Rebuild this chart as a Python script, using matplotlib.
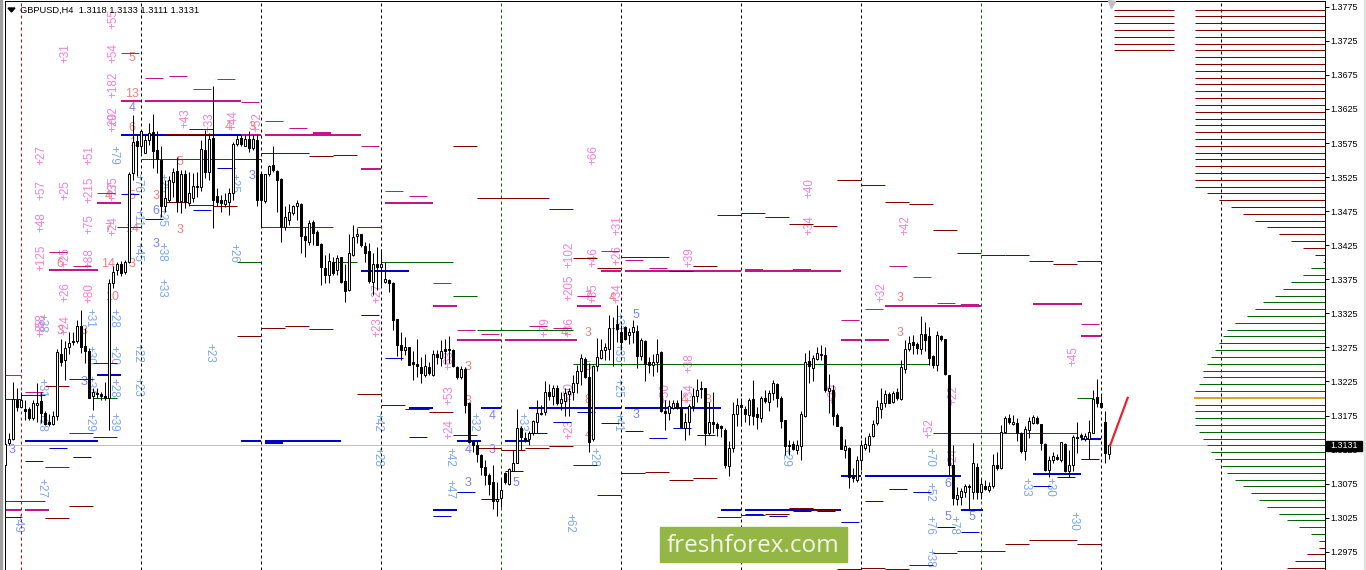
import numpy as np
import matplotlib
matplotlib.use("Agg")
import matplotlib.pyplot as plt
from matplotlib.patches import Rectangle

# GBPUSD H4 candles, prices in points (1.3131 -> 13131)
opens = [
    13102, 13134, 13140, 13198, 13188, 13184, 13185, 13171, 13191, 13196,
    13178, 13165, 13163, 13174, 13266, 13256, 13275, 13285, 13285, 13306,
    13277, 13270, 13203, 13208, 13206, 13203, 13200, 13369, 13388, 13398,
    13385, 13401, 13531, 13578, 13570, 13561, 13579, 13591, 13565, 13550,
    13483, 13491, 13518, 13534, 13490, 13529, 13487, 13495, 13512, 13511,
    13565, 13533, 13582, 13497, 13491, 13486, 13488, 13501, 13573, 13582,
    13571, 13581, 13568, 13580, 13529, 13490, 13529, 13543, 13534, 13522,
    13451, 13462, 13472, 13482, 13486, 13439, 13430, 13459, 13445, 13427,
    13391, 13381, 13401, 13388, 13407, 13372, 13359, 13411, 13438, 13442,
    13424, 13416, 13371, 13398, 13393, 13371, 13374, 13369, 13316, 13278,
    13271, 13275, 13254, 13251, 13246, 13234, 13246, 13235, 13266, 13260,
    13272, 13272, 13271, 13246, 13231, 13244, 13193, 13136, 13132, 13117,
    13099, 13088, 13077, 13049, 13054, 13090, 13075, 13094, 13106, 13157,
    13142, 13141, 13149, 13165, 13178, 13180, 13209, 13203, 13216, 13194,
    13196, 13207, 13210, 13222, 13241, 13258, 13231, 13141, 13247, 13259,
    13271, 13273, 13304, 13309, 13298, 13305, 13293, 13298, 13299, 13263,
    13284, 13253, 13249, 13253, 13268, 13182, 13178, 13186, 13194, 13187,
    13156, 13165, 13189, 13203, 13216, 13215, 13150, 13166, 13163, 13160,
    13154, 13101, 13128, 13177, 13190, 13185, 13176, 13199, 13177, 13172,
    13200, 13195, 13208, 13221, 13201, 13168, 13132, 13133, 13125, 13130,
    13175, 13255, 13245, 13258, 13266, 13264, 13211, 13213, 13176, 13158,
    13125, 13128, 13088, 13080, 13110, 13128, 13132, 13145, 13164, 13185,
    13194, 13207, 13195, 13209, 13199, 13244, 13272, 13283, 13280, 13273,
    13294, 13291, 13262, 13249, 13292, 13287, 13235, 13102, 13053, 13056,
    13062, 13072, 13062, 13099, 13062, 13072, 13065, 13071, 13103, 13098,
    13151, 13172, 13163, 13164, 13150, 13123, 13153, 13164, 13172, 13162,
    13133, 13095, 13109, 13114, 13109, 13133, 13093, 13102, 13143, 13146,
    13141, 13141, 13150, 13202, 13194, 13165, 13118,
]
closes = [
    13133, 13141, 13199, 13187, 13198, 13182, 13172, 13193, 13194, 13178,
    13163, 13162, 13175, 13268, 13254, 13274, 13282, 13283, 13307, 13275,
    13269, 13201, 13209, 13206, 13203, 13200, 13370, 13386, 13397, 13384,
    13401, 13530, 13576, 13570, 13593, 13579, 13589, 13564, 13551, 13482,
    13494, 13521, 13533, 13489, 13530, 13489, 13501, 13512, 13511, 13566,
    13533, 13581, 13491, 13488, 13487, 13491, 13501, 13574, 13581, 13574,
    13581, 13567, 13581, 13491, 13491, 13529, 13541, 13535, 13520, 13452,
    13466, 13474, 13483, 13487, 13438, 13432, 13457, 13443, 13425, 13393,
    13381, 13402, 13384, 13406, 13371, 13358, 13413, 13437, 13441, 13425,
    13414, 13372, 13398, 13393, 13398, 13375, 13369, 13315, 13278, 13271,
    13275, 13249, 13251, 13247, 13237, 13247, 13237, 13265, 13261, 13270,
    13269, 13271, 13247, 13231, 13244, 13190, 13136, 13132, 13118, 13100,
    13087, 13074, 13049, 13053, 13065, 13078, 13096, 13106, 13157, 13144,
    13139, 13150, 13167, 13178, 13177, 13209, 13203, 13215, 13193, 13199,
    13208, 13211, 13222, 13241, 13259, 13231, 13136, 13247, 13261, 13271,
    13275, 13303, 13303, 13302, 13283, 13287, 13298, 13305, 13263, 13286,
    13250, 13249, 13254, 13266, 13182, 13178, 13189, 13194, 13186, 13158,
    13165, 13189, 13204, 13213, 13214, 13149, 13166, 13163, 13156, 13157,
    13102, 13128, 13177, 13191, 13188, 13177, 13198, 13175, 13173, 13200,
    13196, 13208, 13222, 13200, 13167, 13130, 13130, 13126, 13131, 13177,
    13253, 13247, 13259, 13267, 13264, 13212, 13215, 13175, 13160, 13126,
    13130, 13085, 13083, 13110, 13132, 13133, 13145, 13162, 13187, 13194,
    13207, 13194, 13208, 13201, 13246, 13272, 13282, 13279, 13274, 13294,
    13286, 13260, 13249, 13293, 13288, 13236, 13102, 13054, 13058, 13064,
    13071, 13070, 13105, 13062, 13075, 13067, 13072, 13103, 13098, 13151,
    13171, 13165, 13166, 13150, 13123, 13155, 13167, 13173, 13164, 13134,
    13095, 13109, 13115, 13111, 13136, 13094, 13103, 13144, 13142, 13143,
    13145, 13151, 13199, 13194, 13188, 13120, 13131,
]
highs = [
    13138, 13150, 13224, 13216, 13209, 13198, 13188, 13198, 13222, 13210,
    13181, 13177, 13182, 13272, 13288, 13284, 13297, 13298, 13315, 13330,
    13304, 13274, 13216, 13216, 13210, 13224, 13375, 13394, 13401, 13402,
    13403, 13533, 13616, 13587, 13594, 13587, 13604, 13617, 13592, 13570,
    13521, 13526, 13538, 13555, 13535, 13535, 13533, 13531, 13533, 13579,
    13594, 13589, 13659, 13509, 13499, 13501, 13509, 13577, 13587, 13587,
    13587, 13592, 13587, 13587, 13530, 13530, 13543, 13571, 13535, 13523,
    13482, 13486, 13484, 13491, 13487, 13452, 13462, 13462, 13447, 13428,
    13411, 13413, 13408, 13411, 13408, 13398, 13442, 13455, 13450, 13442,
    13430, 13428, 13413, 13423, 13420, 13401, 13376, 13371, 13317, 13298,
    13290, 13275, 13269, 13287, 13261, 13265, 13254, 13271, 13271, 13286,
    13288, 13292, 13272, 13248, 13247, 13246, 13195, 13137, 13137, 13118,
    13110, 13090, 13102, 13078, 13083, 13092, 13098, 13124, 13185, 13160,
    13151, 13152, 13168, 13198, 13191, 13226, 13221, 13220, 13220, 13210,
    13215, 13216, 13234, 13249, 13265, 13261, 13252, 13249, 13289, 13288,
    13281, 13323, 13320, 13337, 13308, 13307, 13303, 13315, 13308, 13289,
    13286, 13261, 13266, 13287, 13270, 13198, 13198, 13198, 13198, 13212,
    13178, 13192, 13216, 13228, 13226, 13216, 13195, 13209, 13166, 13161,
    13156, 13137, 13195, 13200, 13200, 13189, 13200, 13227, 13188, 13203,
    13213, 13212, 13227, 13223, 13203, 13169, 13139, 13138, 13139, 13181,
    13267, 13271, 13264, 13276, 13279, 13276, 13236, 13220, 13178, 13160,
    13141, 13129, 13098, 13116, 13139, 13144, 13149, 13168, 13198, 13215,
    13212, 13210, 13211, 13215, 13256, 13286, 13291, 13293, 13283, 13321,
    13313, 13305, 13264, 13299, 13293, 13288, 13235, 13132, 13070, 13068,
    13075, 13075, 13134, 13105, 13083, 13080, 13078, 13119, 13122, 13161,
    13175, 13177, 13176, 13171, 13151, 13159, 13173, 13176, 13175, 13163,
    13134, 13115, 13121, 13119, 13136, 13134, 13124, 13146, 13165, 13150,
    13149, 13168, 13212, 13229, 13203, 13181, 13133,
]
lows = [
    13100, 13131, 13139, 13181, 13187, 13168, 13168, 13168, 13166, 13164,
    13161, 13159, 13161, 13169, 13247, 13227, 13266, 13278, 13281, 13267,
    13252, 13200, 13183, 13201, 13198, 13198, 13153, 13362, 13381, 13380,
    13383, 13399, 13521, 13526, 13560, 13560, 13572, 13538, 13531, 13467,
    13474, 13489, 13496, 13474, 13472, 13479, 13482, 13489, 13496, 13504,
    13523, 13521, 13450, 13482, 13474, 13481, 13469, 13491, 13570, 13570,
    13570, 13562, 13565, 13482, 13451, 13487, 13526, 13533, 13474, 13430,
    13447, 13455, 13469, 13462, 13413, 13408, 13425, 13425, 13425, 13367,
    13369, 13369, 13381, 13381, 13370, 13342, 13358, 13409, 13428, 13422,
    13401, 13369, 13352, 13359, 13366, 13369, 13356, 13300, 13262, 13256,
    13264, 13249, 13227, 13232, 13222, 13232, 13234, 13233, 13251, 13247,
    13251, 13252, 13246, 13229, 13228, 13178, 13134, 13122, 13107, 13087,
    13073, 13058, 13038, 13027, 13041, 13075, 13073, 13093, 13105, 13124,
    13136, 13131, 13146, 13149, 13176, 13176, 13198, 13190, 13190, 13183,
    13175, 13175, 13198, 13208, 13220, 13230, 13121, 13137, 13240, 13258,
    13256, 13256, 13247, 13283, 13271, 13286, 13280, 13281, 13245, 13256,
    13225, 13237, 13233, 13239, 13180, 13153, 13168, 13185, 13185, 13156,
    13139, 13146, 13181, 13195, 13200, 13132, 13146, 13149, 13145, 13144,
    13098, 13086, 13122, 13160, 13160, 13166, 13161, 13161, 13155, 13165,
    13193, 13181, 13198, 13188, 13156, 13117, 13117, 13124, 13119, 13109,
    13173, 13223, 13225, 13257, 13256, 13210, 13178, 13161, 13160, 13126,
    13112, 13068, 13078, 13078, 13095, 13124, 13122, 13144, 13161, 13171,
    13188, 13193, 13194, 13198, 13198, 13237, 13269, 13266, 13266, 13266,
    13269, 13249, 13245, 13240, 13285, 13235, 13088, 13043, 13044, 13044,
    13056, 13038, 13053, 13053, 13053, 13066, 13063, 13068, 13095, 13096,
    13149, 13163, 13161, 13137, 13120, 13109, 13142, 13162, 13162, 13124,
    13093, 13085, 13105, 13109, 13107, 13092, 13084, 13093, 13120, 13139,
    13138, 13111, 13149, 13188, 13186, 13106, 13111,
]

# level segments: (first bar, last bar, price in points)
magenta_thin = [
    (29, 33.5, 13707), (35, 39.5, 13670), (41, 45.5, 13674), (47, 51.5, 13654),
    (53, 57.5, 13669), (59, 63.5, 13635), (65, 69.5, 13608), (71, 75.5, 13597),
    (11, 15.5, 13415), (17, 21.5, 13395), (23, 27.5, 13501), (0, 4, 13235),
    (5, 9.5, 13209), (89, 93.5, 13571), (95, 99.5, 13505), (101, 105.5, 13497),
    (107, 111.5, 13370), (113, 117.5, 13301), (119, 123.5, 13295),
    (131, 135.5, 13307), (137, 141.5, 13303), (143, 147.5, 13351),
    (149, 153.5, 13417), (155, 159.5, 13404), (161, 165.5, 13392),
    (173, 177.5, 13394), (209, 213.5, 13315), (215, 219.5, 13332),
    (221, 225.5, 13395), (227, 231.5, 13379), (233, 237.5, 13340),
    (269, 273.5, 13310),
]
magenta_thick = [
    (29, 34, 13637), (35, 59, 13637), (23, 29, 13487), (11, 23.2, 13388),
    (59, 64, 13587), (65, 89, 13587), (77, 81.5, 13589), (0, 4, 13037),
    (5, 11, 13037), (89, 94, 13537), (95, 107, 13487), (107, 113, 13336),
    (113, 124, 13286), (125, 143, 13286), (143, 149, 13336), (149, 154, 13387),
    (155, 184, 13387), (185, 209, 13387), (185, 189.5, 13389), (197, 201.5, 13389),
    (209, 214, 13286), (215, 221, 13286), (220, 244, 13336), (239, 243.5, 13337),
    (257, 269.2, 13339), (269, 274, 13291),
]
blue_thick = [
    (29, 59, 13587), (5, 23.2, 13137), (23, 29, 13235), (59, 64, 13137),
    (65, 84, 13137), (65, 69.5, 13135), (89, 101, 13387), (101, 107, 13186),
    (119, 124, 13186), (131, 154, 13186), (155, 179, 13186), (113, 119, 13137),
    (125, 131, 13137), (107, 113, 13037), (179, 184, 13037), (185, 209, 13037),
    (209, 214, 13086), (215, 239, 13086), (239, 244.5, 13037), (257, 269, 13089),
    (269, 274, 13140),
]
blue_thin = [
    (29, 33.5, 13500), (35, 39.5, 13463), (47, 51.5, 13476), (53, 57.5, 13539),
    (11, 15.5, 13128), (17, 21.5, 13114), (5, 9.5, 13108), (0, 4, 13026),
    (89, 93.5, 13323), (95, 99.5, 13259), (101, 105.5, 13143), (113, 117.5, 13062),
    (119, 123.5, 13052), (107, 111.5, 13027), (125, 129.5, 13093), (131, 135.5, 13149),
    (137, 141.5, 13165), (143, 147.5, 13180), (149, 153.5, 13164), (155, 159.5, 13152),
    (161, 165.5, 13142), (167, 171.5, 13156), (173, 177.5, 13146), (185, 189.5, 13030),
    (191, 195.5, 13027), (197, 201.5, 13035), (203, 207.5, 13035), (209, 213.5, 13018),
    (215, 219.5, 13049), (221, 225.5, 13067), (227, 231.5, 13062), (233, 237.5, 13012),
    (239, 243.5, 13004), (257, 261.5, 13071), (263, 267.5, 13084), (269, 273.5, 13111),
]
maroon = [
    (46, 52, 13595), (40, 52, 13588), (46, 52, 13484), (52, 58, 13483), (40, 46, 13489),
    (58, 64, 13551), (64, 76, 13560), (76, 82, 13556), (82, 88, 13557),
    (0, 4, 13199), (4, 10, 13205), (10, 16, 13219), (16, 22, 13228), (22, 28, 13252),
    (22, 28, 13144), (10, 16, 13024), (16, 22, 13042), (58, 64, 13291), (64, 70, 13303),
    (70, 76, 13306), (76, 82, 13302), (88, 94, 13206), (94, 100, 13190),
    (100, 106, 13184), (106, 112, 13180), (112, 118, 13571), (118, 136, 13494),
    (136, 142, 13478), (142, 148, 13406), (148, 154, 13392), (154, 166, 13407),
    (166, 172, 13387), (172, 178, 13394), (178, 184, 13469), (184, 190, 13472),
    (190, 196, 13466), (196, 202, 13456), (202, 208, 13453), (208, 214, 13520),
    (214, 220, 13514), (220, 226, 13489), (226, 232, 13486), (232, 238, 13447),
    (238, 244, 13414), (244, 250, 13410), (250, 256, 13411), (256, 262, 13402),
    (262, 268, 13397), (268, 274, 13402), (112, 118, 13146), (118, 124, 13128),
    (124, 130, 13124), (130, 136, 13128), (136, 142, 13130), (142, 148, 13103),
    (148, 154, 13059), (154, 160, 13090), (160, 166, 13092), (166, 172, 13080),
    (172, 178, 13083), (178, 184, 13026), (184, 190, 13029), (190, 196, 13031),
    (196, 202, 13039), (202, 208, 13036), (208, 214, 12949), (214, 220, 12951),
    (220, 226, 12949), (226, 232, 12955), (232, 238, 12973), (238, 250, 12976),
    (250, 256, 12986), (256, 268, 12992), (268, 274, 12986),
]
green = [
    (34, 64, 13551), (64, 82, 13451), (28, 34, 13451), (58, 64, 13401), (16, 22, 13150),
    (10, 16, 13100), (0, 10, 13050), (22, 28, 13200), (88, 94, 13451), (82, 88, 13401),
    (94, 112, 13401), (112, 118, 13351), (118, 142, 13300), (142, 231, 13250),
    (232, 268, 13150), (268, 272, 13200),
]

# volume profile on the right, one row per 10 points going down from 13771
profile_len = [32.5] * 27 + [
    29.5, 26.5, 23.5, 20.5, 17.5, 14.5, 11.5, 8.5, 5.5, 2.5,
    0.5, 3.5, 5.5, 8.5, 10.5, 12.5, 15.5, 17.5, 19.5, 22.5,
    24.5, 25.5, 26.5, 27.5, 28.5, 29.5, 30.5, 30.5, 31.5, 32.5,
    32.75, 32.5, 32.5, 32.5, 32.5, 31.5, 30.5, 29.5, 28.5, 27.5,
    25.7, 24.5, 22.5, 20.5, 18.5, 16.5, 14.5, 11.5, 9.5, 6.5,
    3.5, 1.5, 1.5, 4.5, 7.5, 9.5,
]
upper_block_rows = [13771, 13761, 13751, 13741, 13731, 13721, 13711]

sep_bars = [34, 64, 94, 154, 184, 214, 274, 304]
sep_green = [124, 244]
sep_red = [4]

pink_labels = [
    (15, 13707, "+31"), (27, 13757, "+55"), (27, 13707, "+54"), (27, 13660, "+182"),
    (27, 13615, "+92"), (27, 13606, "+20"), (9, 13557, "+27"), (9, 13506, "+57"),
    (15, 13506, "+25"), (21, 13557, "+51"), (21, 13506, "+215"), (9, 13459, "+48"),
    (21, 13456, "+75"), (9, 13406, "+125"), (15, 13408, "+25"), (21, 13406, "+88"),
    (15, 13356, "+26"), (21, 13355, "+80"), (9, 13311, "+58"), (15, 13308, "+24"),
    (9, 13305, "+38"), (27, 13512, "+35"), (27, 13505, "+27"), (27, 13453, "+24"),
    (45, 13612, "+43"), (51, 13606, "+33"), (57, 13609, "+44"), (63, 13606, "+52"),
    (93, 13305, "+23"), (93, 13355, "+27"), (111, 13205, "+53"), (111, 13155, "+24"),
    (111, 13257, "+63"), (135, 13305, "+79"), (141, 13305, "+86"), (141, 13362, "+205"),
    (141, 13411, "+102"), (147, 13557, "+66"), (147, 13355, "+35"), (147, 13408, "+46"),
    (153, 13355, "+34"), (153, 13411, "+26"), (153, 13455, "+31"), (141, 13155, "+23"),
    (141, 13209, "+50"), (165, 13208, "+50"), (171, 13208, "+34"), (171, 13252, "+38"),
    (171, 13408, "+39"), (201, 13509, "+40"), (201, 13455, "+34"), (225, 13455, "+42"),
    (219, 13356, "+32"), (237, 13205, "+22"), (231, 13157, "+52"), (267, 13262, "+45"),
    (207, 13208, "+20"), (237, 13113, "+24"),
]
blue_labels = [
    (9, 13069, "+27"), (3, 13017, "+49"), (9, 13166, "+28"), (9, 13215, "+31"),
    (9, 13311, "+38"), (21, 13318, "+31"), (21, 13264, "+30"), (21, 13220, "+34"),
    (21, 13166, "+29"), (27, 13318, "+28"), (27, 13264, "+20"), (27, 13215, "+28"),
    (27, 13166, "+39"), (33, 13267, "+22"), (33, 13217, "+23"), (51, 13267, "+23"),
    (39, 13362, "+33"), (39, 13415, "+38"), (33, 13415, "+45"), (57, 13414, "+26"),
    (33, 13466, "+11"), (39, 13466, "+25"), (39, 13516, "+25"), (33, 13516, "+76"),
    (57, 13516, "+25"), (27, 13557, "+79"), (93, 13166, "+42"), (93, 13114, "+28"),
    (111, 13114, "+42"), (111, 13067, "+47"), (117, 13166, "+32"), (129, 13166, "+33"),
    (141, 13017, "+62"), (147, 13114, "+28"), (153, 13215, "+25"), (153, 13166, "+41"),
    (153, 13267, "+35"), (153, 13312, "+31"), (231, 13114, "+70"), (231, 13063, "+52"),
    (231, 13014, "+76"), (231, 12966, "+38"), (237, 13014, "+78"), (195, 13114, "+29"),
    (255, 13070, "+33"), (261, 13070, "+30"), (267, 13020, "+30"),
]
salmon_counts = [
    (31.7, 13700, "5"), (31.7, 13647, "13"), (31.7, 13597, "6"), (31.7, 13575, "1"),
    (43.7, 13447, "3"), (43.7, 13547, "5"), (37.7, 13497, "3"), (55.7, 13599, "4"),
    (61.7, 13599, "3"), (25.7, 13497, "4"), (31.7, 13497, "5"), (13.7, 13397, "6"),
    (25.7, 13397, "14"), (31.7, 13397, "3"), (25.7, 13449, "7"), (31.7, 13449, "14"),
    (13.7, 13299, "3"), (19.7, 13299, "3"), (26.7, 13349, "10"), (115.7, 13246, "3"),
    (115.7, 13197, "3"), (145.7, 13296, "3"), (139.7, 13296, "4"), (145.7, 13349, "7"),
    (151.7, 13347, "4"), (145.7, 13198, "8"), (145.7, 13146, "4"), (145.7, 13246, "5"),
    (175.7, 13198, "3"), (169.7, 13198, "4"), (223.7, 13347, "3"), (223.7, 13296, "3"),
]
purple_counts = [
    (31.7, 13626, "4"), (37.7, 13475, "6"), (37.7, 13427, "3"), (61.7, 13527, "3"),
    (1.7, 13124, "3"), (19.7, 13224, "3"), (115.7, 13124, "4"), (121.7, 13124, "3"),
    (121.7, 13174, "4"), (115.7, 13076, "3"), (127.7, 13076, "5"), (157.7, 13323, "5"),
    (157.7, 13176, "3"), (241.7, 13026, "5"), (235.7, 13026, "5"), (235.7, 13074, "6"),
]

price_ticks = np.arange(12975, 13776, 50)
trend_x = [276.2, 280.6]
trend_y = [13131, 13201]
last_price = 13131
title_txt = "GBPUSD,H4  1.3118 1.3133 1.3111 1.3131"

W, H = 1366, 570
PX = 100 / 72  # pixels per point at dpi 100
FONT = "Liberation Sans"
MAGENTA = "#c71585"
BLUE = "#0000cd"
MAROON = "#800000"
GREEN = "#006400"


def px_box(x0, y0, x1, y1):
    """Figure-fraction rectangle from pixel corners, y counted from the top."""
    return x0 / W, 1 - y1 / H, (x1 - x0) / W, (y1 - y0) / H


def add_levels(ax, segs, color, width):
    segs = np.array(segs)
    ax.hlines(segs[:, 2] / 1e4, segs[:, 0], segs[:, 1], colors=color,
              linewidth=width / PX, zorder=2, snap=True)


def add_labels(ax, labels, color, size, rot):
    for x, p, txt in labels:
        ax.text(x, p / 1e4, txt, color=color, fontsize=size, rotation=rot,
                ha="center", va="center", family=FONT, zorder=1)


fig = plt.figure(figsize=(W / 100, H / 100), dpi=100, facecolor="white")
ax = fig.add_axes(px_box(4.5, 1, 1324.5, 570))
ax.set_xlim(-0.2, 329.8)
ax.set_ylim(1.29482, 1.37835)

ax.spines["bottom"].set_visible(False)
for side in ["left", "right", "top"]:
    ax.spines[side].set_linewidth(1 / PX)
ax.set_xticks([])
ax.yaxis.tick_right()
ax.set_yticks(price_ticks / 1e4)
ax.set_yticklabels([f"{p / 1e4:.4f}" for p in price_ticks], family=FONT, fontsize=6.5)
ax.tick_params(axis="y", length=4 / PX, width=1 / PX, pad=2 / PX)

# period separators and last price line
ax.axhline(last_price / 1e4, color="#c0c0c0", linewidth=1 / PX, zorder=1.5)
for bars, col in [(sep_bars, "black"), (sep_green, GREEN), (sep_red, "#e00000")]:
    for b in bars:
        ax.axvline(b, color=col, linewidth=1 / PX, linestyle=(0, (3, 3)), zorder=1.6)

add_labels(ax, pink_labels, "#ee82d8", 8.4, 90)
add_labels(ax, blue_labels, "#7ba6f2", 8.4, -90)
add_labels(ax, salmon_counts, "#f08080", 9, 0)
add_labels(ax, purple_counts, "#8080f0", 9, 0)

add_levels(ax, green, GREEN, 1)
add_levels(ax, blue_thin, BLUE, 1)
add_levels(ax, blue_thick, BLUE, 2)
add_levels(ax, magenta_thin, MAGENTA, 1)
add_levels(ax, magenta_thick, MAGENTA, 2)
add_levels(ax, maroon, MAROON, 1)

# candles
idx = np.arange(len(opens))
o, c, hi, lo = [np.array(a) / 1e4 for a in (opens, closes, highs, lows)]
ax.vlines(idx, lo, hi, color="black", linewidth=1 / PX, zorder=3, snap=True)
ax.bar(idx, np.abs(c - o), bottom=np.minimum(o, c), width=0.5,
       color=["white" if up else "black" for up in c >= o],
       edgecolor="black", linewidth=1 / PX, zorder=3.1)

# volume profile
rows = (13771 - 10 * np.arange(len(profile_len))) / 1e4
right = ax.get_xlim()[1]
for k, (row, length) in enumerate(zip(rows, profile_len)):
    if k == 57:
        col, lw = "#daa520", 2
    elif 37 <= k <= 78:
        col, lw = GREEN, 1
    else:
        col, lw = MAROON, 1
    ax.hlines(row, right - length, right, colors=col, linewidth=lw / PX, zorder=2, snap=True)
ax.hlines(np.array(upper_block_rows) / 1e4, 277.2, 292.2, colors=MAROON,
          linewidth=1 / PX, zorder=2, snap=True)

ax.plot(np.array(trend_x), np.array(trend_y) / 1e4, color="#ee2030", linewidth=2.2 / PX, zorder=4)
ax.plot([276.4], [1.3779], marker="v", color="#c0c0c0", markersize=7 / PX, zorder=4, clip_on=False)

# window furniture
fig.add_artist(Rectangle((0, 0), 2 / W, 1, transform=fig.transFigure, color="#a0a0a0", zorder=1))
fig.add_artist(Rectangle((1 - 2 / W, 0), 2 / W, 1, transform=fig.transFigure, color="#e0e0e0", zorder=1))
fig.add_artist(plt.Polygon([[8 / W, 1 - 8 / H], [15 / W, 1 - 8 / H], [11.5 / W, 1 - 12 / H]],
                           transform=fig.transFigure, color="black", zorder=2))
fig.text(20 / W, 1 - 10 / H, title_txt, family=FONT, fontsize=6.7, va="center", ha="left", color="black")

# last price tag
fig.add_artist(Rectangle(px_box(1326, 441, 1362, 451)[:2], 36 / W, 10 / H,
                         transform=fig.transFigure, color="black", zorder=2))
fig.text(1344 / W, 1 - 446 / H, f"{last_price / 1e4:.4f}", color="white", family=FONT,
         fontsize=6.5, va="center", ha="center", zorder=3)

# watermark
fig.add_artist(Rectangle(px_box(660, 527, 847, 562)[:2], 187 / W, 35 / H,
                         transform=fig.transFigure, color="#93b645", zorder=2))
fig.text(753.5 / W, 1 - 545.5 / H, "freshforex.com", color="#f4f7e8", family="Open Sans",
         fontsize=17.5, va="center", ha="center", zorder=3)

fig.savefig("out.png", dpi=100)
plt.close(fig)
